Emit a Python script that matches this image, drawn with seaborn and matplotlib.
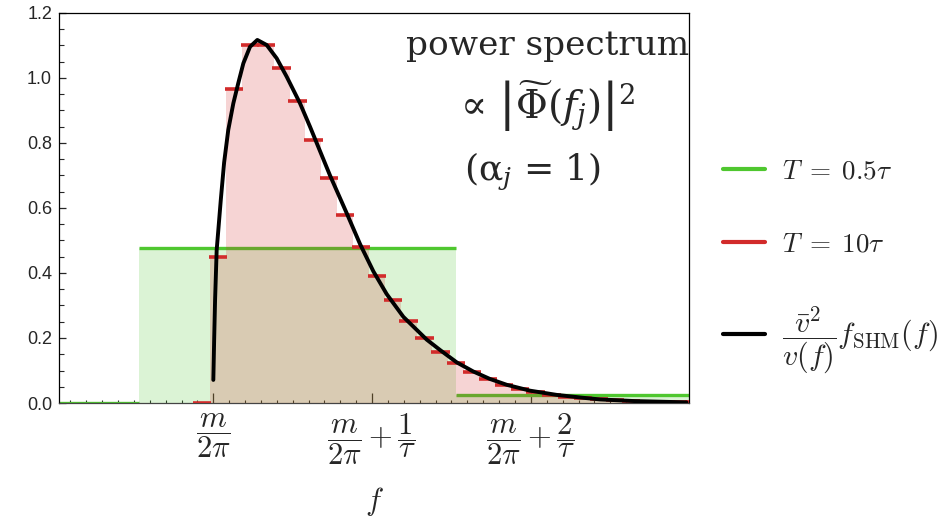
import numpy as np
import matplotlib
matplotlib.use("Agg")
import matplotlib.pyplot as plt
from matplotlib.ticker import MultipleLocator, FixedLocator
from matplotlib.lines import Line2D
import seaborn as sns
import pandas as pd

# ---------------- data (x in units: 0 = m/2pi, 1 = 1/tau) ----------------
green_bin_start = -2.47
green_bin_width = 2.0
green_heights = [0.0, 0.476, 0.025]

red_bin_start = -0.12
red_bin_width = 0.1
red_heights = [0.0, 0.45, 0.965, 1.101, 1.101, 1.032, 0.928, 0.810, 0.691,
               0.579, 0.479, 0.392, 0.316, 0.253, 0.201, 0.158, 0.124, 0.096,
               0.074, 0.056, 0.043, 0.033, 0.025, 0.019, 0.014, 0.011, 0.008,
               0.006, 0.0045, 0.0035, 0.0025, 0.002]

curve_x = [0.0, 0.005, 0.011, 0.021, 0.047, 0.068, 0.094, 0.126, 0.157, 0.189,
           0.231, 0.277, 0.336, 0.399, 0.462, 0.546, 0.609, 0.672, 0.735,
           0.84, 0.924, 1.008, 1.092, 1.197, 1.344, 1.428, 1.533, 1.637, 1.742,
           1.848, 1.994, 2.162, 2.33, 2.435, 2.65, 2.98]
curve_y = [0.071, 0.19, 0.317, 0.47, 0.625, 0.74, 0.84, 0.922, 0.984, 1.045,
           1.096, 1.117, 1.1015, 1.0605, 1.004, 0.922, 0.85, 0.775, 0.70,
           0.584, 0.489, 0.405, 0.335, 0.265, 0.195, 0.163, 0.125, 0.097, 0.074,
           0.056, 0.038, 0.025, 0.016, 0.011, 0.006, 0.002]

x_tick_pos = [0, 1, 2]
x_tick_labels = [r"$\dfrac{m}{2\pi}$", r"$\dfrac{m}{2\pi}+\dfrac{1}{\tau}$",
                 r"$\dfrac{m}{2\pi}+\dfrac{2}{\tau}$"]
legend_labels = [r"$T\;=\;0.5\tau$", r"$T\;=\;10\tau$",
                 r"$\dfrac{\bar{v}^2}{v(f)}f_{\rm SHM}(f)$"]

# ---------------- style ----------------
sns.set_theme(style="ticks")
plt.rcParams["font.family"] = ["Liberation Sans", "DejaVu Sans"]
plt.rcParams["mathtext.fontset"] = "cm"

GREEN = "#4fc72f"
RED = "#d22b2b"

fig = plt.figure(figsize=(9.5, 5.19), dpi=100)
ax = fig.add_axes([0.0621, 0.2235, 0.6632, 0.7515])

# green histogram
g_left = green_bin_start + green_bin_width * np.arange(len(green_heights))
ax.bar(g_left, green_heights, width=green_bin_width, align="edge",
       color=GREEN, alpha=0.2, linewidth=0, zorder=1)
ax.hlines(green_heights, g_left, g_left + green_bin_width, colors=GREEN,
          linewidth=2.4, zorder=2)

# red histogram
r_left = red_bin_start + red_bin_width * np.arange(len(red_heights))
ax.bar(r_left, red_heights, width=red_bin_width, align="edge",
       color=RED, alpha=0.2, linewidth=0, zorder=3)
ax.hlines(red_heights, r_left - 0.008, r_left + red_bin_width + 0.008,
          colors=RED, linewidth=2.6, zorder=4)

# curve
df = pd.DataFrame({"x": curve_x, "y": curve_y})
sns.lineplot(data=df, x="x", y="y", ax=ax, color="black", linewidth=2.8,
             sort=False, zorder=5)

ax.set_xlim(-0.972, 2.996)
ax.set_ylim(0, 1.2)

ax.xaxis.set_major_locator(FixedLocator(x_tick_pos))
ax.set_xticklabels(x_tick_labels, fontsize=22)
ax.xaxis.set_minor_locator(MultipleLocator(0.1))
ax.yaxis.set_major_locator(MultipleLocator(0.2))
ax.yaxis.set_minor_locator(MultipleLocator(0.05))
ax.tick_params(axis="x", which="major", direction="in", length=7, width=0.9,
               pad=6, top=False)
ax.tick_params(axis="x", which="minor", direction="in", length=2.5, width=0.8,
               top=False)
ax.tick_params(axis="y", which="major", direction="in", length=5, width=0.9,
               pad=5, labelsize=13, right=False)
ax.tick_params(axis="y", which="minor", direction="in", length=3.4, width=0.8,
               right=False)
for s in ax.spines.values():
    s.set_linewidth(0.9)
    s.set_color("black")
ax.spines["bottom"].set_color("#444444")

ax.set_xlabel(r"$f$", fontsize=22, labelpad=13)
ax.set_ylabel("")

# annotations
ax.text(2.108, 1.071, "power spectrum", family="DejaVu Serif", fontsize=24.7,
        ha="center", va="baseline", zorder=6)
ax.text(2.108, 0.871, r"∝ $\left|\widetilde{\Phi}(f_j)\right|^2$",
        family="DejaVu Serif", math_fontfamily="dejavuserif", fontsize=28,
        ha="center", va="baseline", zorder=6)
ax.text(2.01, 0.686, r"(α$_j$ = 1)", family="DejaVu Serif",
        math_fontfamily="dejavuserif", fontsize=26, ha="center",
        va="baseline", zorder=6)

# legend
handles = [Line2D([], [], color=GREEN, linewidth=3),
           Line2D([], [], color=RED, linewidth=3),
           Line2D([], [], color="black", linewidth=3)]
leg = fig.legend(handles, legend_labels, loc="center left",
                 bbox_to_anchor=(0.735, 0.485), frameon=False, fontsize=19.5,
                 handlelength=1.55, handletextpad=0.63, labelspacing=1.75)
leg.get_texts()[2].set_fontsize(21.5)

fig.savefig("out.png", dpi=100)
